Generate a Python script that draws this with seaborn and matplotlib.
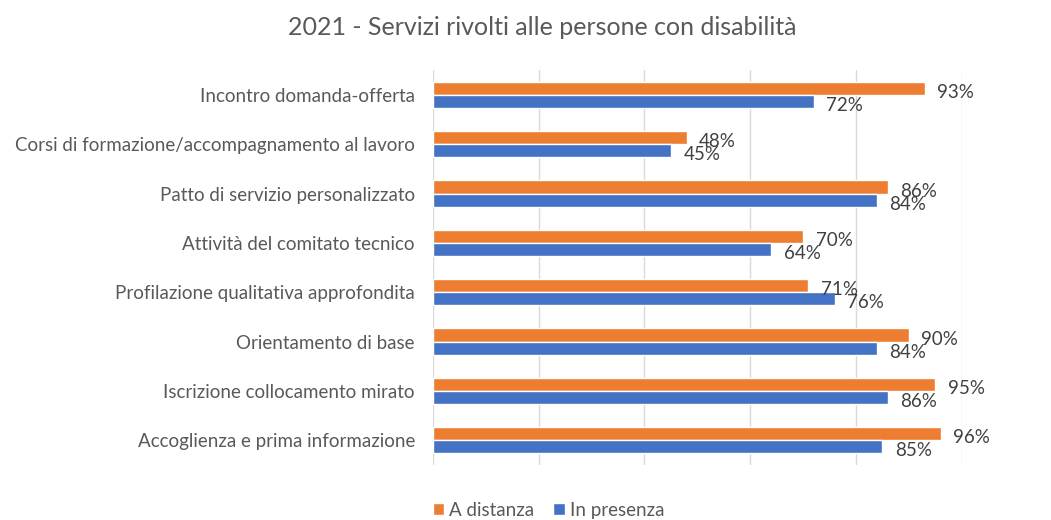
import pandas as pd
import matplotlib
matplotlib.use("Agg")
import matplotlib.pyplot as plt
import seaborn as sns

# Data (top to bottom)
categories = [
    "Incontro domanda-offerta",
    "Corsi di formazione/accompagnamento al lavoro",
    "Patto di servizio personalizzato",
    "Attività del comitato tecnico",
    "Profilazione qualitativa approfondita",
    "Orientamento di base",
    "Iscrizione collocamento mirato",
    "Accoglienza e prima informazione",
]
a_distanza = [93, 48, 86, 70, 71, 90, 95, 96]
in_presenza = [72, 45, 84, 64, 76, 84, 86, 85]
series = ["A distanza", "In presenza"]
colors = ["#ED7D31", "#4472C4"]
text_grey = "#595959"

df = pd.DataFrame({
    "Servizio": categories * 2,
    "Serie": [series[0]] * len(categories) + [series[1]] * len(categories),
    "Valore": [v / 100 for v in a_distanza + in_presenza],
})

sns.set_style("white")
plt.rcParams["font.family"] = ["Lato", "DejaVu Sans"]

fig = plt.figure(figsize=(10.51, 5.2), dpi=100)
ax = fig.add_axes([0.412, 0.106, 0.503, 0.759])

sns.barplot(data=df, y="Servizio", x="Valore", hue="Serie", orient="h",
            palette=colors, width=0.53, saturation=1, ax=ax, legend=True)

# data labels, placed just past the end of each bar
for container in ax.containers:
    for patch in container:
        w = patch.get_width()
        yc = patch.get_y() + patch.get_height() / 2
        ax.annotate(f"{round(w * 100)}%", (w, yc), xytext=(9, -3),
                    textcoords="offset points", ha="left", va="center",
                    fontsize=13.5, color="#404040")

ax.set_xlim(0, 1)
ax.set_xticks([0, 0.2, 0.4, 0.6, 0.8, 1.0])
ax.set_xticklabels([])
ax.tick_params(axis="x", length=0)
ax.tick_params(axis="y", length=0, labelsize=13.5, labelcolor=text_grey, pad=13)
ax.grid(axis="x", color="#D9D9D9", linewidth=1)
ax.set_axisbelow(True)
for s in ax.spines.values():
    s.set_visible(False)
ax.set_xlabel("")
ax.set_ylabel("")

fig.suptitle("2021 - Servizi rivolti alle persone con disabilità",
             x=0.516, y=0.97, fontsize=18, color=text_grey)

handles, labels = ax.get_legend_handles_labels()
ax.legend_.remove()
fig.legend(handles, labels, loc="lower center", bbox_to_anchor=(0.522, -0.03),
           ncol=2, frameon=False, fontsize=13.5, labelcolor=text_grey,
           handlelength=0.6, handleheight=0.6, handletextpad=0.3, columnspacing=1.0)

fig.savefig("out.png", dpi=100)
